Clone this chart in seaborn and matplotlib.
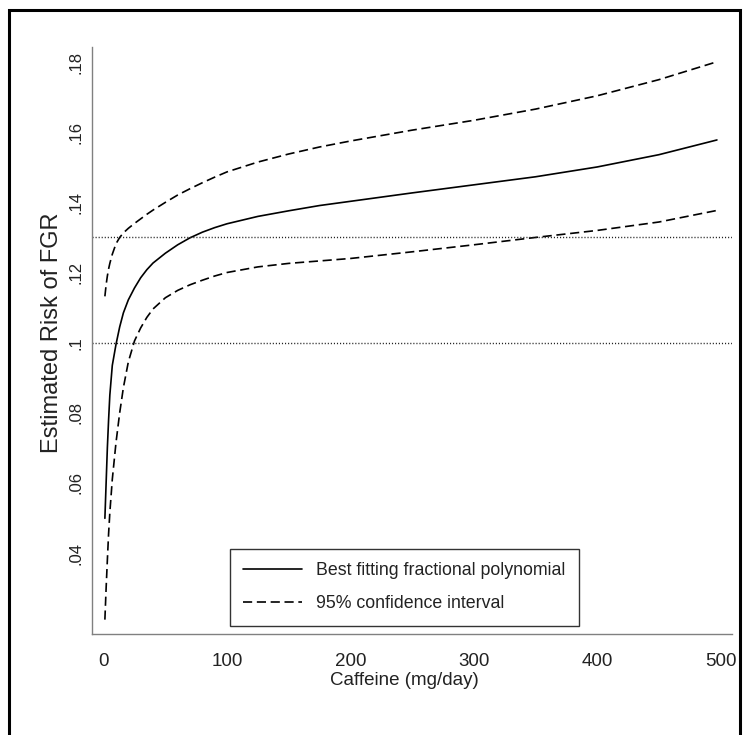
import matplotlib
matplotlib.use('Agg')
import matplotlib.pyplot as plt
import seaborn as sns
from matplotlib.lines import Line2D
from matplotlib.patches import Rectangle

# Values
caffeine = [1, 2, 3, 4, 5, 7, 10, 13, 16, 20, 25, 30, 35, 40, 50, 60, 70, 80, 90, 100,
            125, 150, 175, 200, 250, 300, 350, 400, 450, 497]
risk_fit = [0.0499, 0.0600, 0.0700, 0.0780, 0.0850, 0.0935, 0.0995, 0.1045, 0.1085, 0.1122,
            0.1156, 0.1185, 0.1208, 0.1227, 0.1255, 0.1279, 0.1299, 0.1315, 0.1328, 0.1339,
            0.1360, 0.1376, 0.1391, 0.1403, 0.1427, 0.1450, 0.1473, 0.1501, 0.1536, 0.1578]
ci_upper = [0.1132, 0.1165, 0.1190, 0.1210, 0.1226, 0.1252, 0.1282, 0.1300, 0.1313, 0.1326,
            0.1340, 0.1353, 0.1366, 0.1378, 0.1400, 0.1421, 0.1439, 0.1456, 0.1472, 0.1487,
            0.1515, 0.1538, 0.1558, 0.1575, 0.1606, 0.1634, 0.1666, 0.1704, 0.1750, 0.1801]
ci_lower = [0.0210, 0.0300, 0.0380, 0.0455, 0.0515, 0.0610, 0.0715, 0.0800, 0.0872, 0.0945,
            0.1005, 0.1042, 0.1072, 0.1096, 0.1128, 0.1149, 0.1165, 0.1178, 0.1190, 0.1200,
            0.1216, 0.1226, 0.1233, 0.1240, 0.1259, 0.1279, 0.1300, 0.1320, 0.1344, 0.1377]
ref_lines = [0.13, 0.10]
x_ticks = [0, 100, 200, 300, 400, 500]
y_ticks = [0.04, 0.06, 0.08, 0.10, 0.12, 0.14, 0.16, 0.18]
y_ticklabels = ['.04', '.06', '.08', '.1', '.12', '.14', '.16', '.18']
legend_labels = ['Best fitting fractional polynomial', '95% confidence interval']

sns.set_style('white')
plt.rcParams['font.family'] = ['Liberation Sans', 'DejaVu Sans']
text_col = '#222222'
axis_col = '#808080'
dash = (0, (5.5, 2.8))

fig = plt.figure(figsize=(7.45, 7.35), dpi=100)
ax = fig.add_axes([0.1239, 0.1374, 0.8583, 0.7986])

sns.lineplot(x=caffeine, y=risk_fit, ax=ax, color='black', lw=1.2)
sns.lineplot(x=caffeine, y=ci_upper, ax=ax, color='black', lw=1.2, linestyle=dash)
sns.lineplot(x=caffeine, y=ci_lower, ax=ax, color='black', lw=1.2, linestyle=dash)

for r in ref_lines:
    ax.axhline(r, color='#222222', lw=1.0, linestyle=(0, (0.8, 1.4)))

ax.set_xlim(-9.2, 509)
ax.set_ylim(0.0169, 0.1843)

for s in ['top', 'right']:
    ax.spines[s].set_visible(False)
for s in ['left', 'bottom']:
    ax.spines[s].set_color(axis_col)
    ax.spines[s].set_linewidth(1.0)

ax.set_xticks(x_ticks)
ax.set_xticklabels([str(t) for t in x_ticks], fontsize=13.5, color=text_col)
ax.set_yticks(y_ticks)
ax.set_yticklabels(y_ticklabels, fontsize=12, rotation=90, va='center', color=text_col)
ax.tick_params(axis='x', direction='out', length=7, width=1, color=axis_col, pad=7)
ax.tick_params(axis='y', direction='out', length=5, width=1, color=axis_col, pad=1)

ax.set_xlabel('Caffeine (mg/day)', fontsize=13.5, color=text_col)
ax.xaxis.set_label_coords(0.4875, -0.065)
ax.set_ylabel('Estimated Risk of FGR', fontsize=17, color=text_col)
ax.yaxis.set_label_coords(-0.0458, 0.514)

handles = [Line2D([], [], color='black', lw=1.2),
           Line2D([], [], color='black', lw=1.2, linestyle=dash)]
leg = ax.legend(handles, legend_labels, loc='lower left', bbox_to_anchor=(0.2154, 0.0141),
                borderaxespad=0, frameon=True, fancybox=False, framealpha=1,
                edgecolor='#333333', handlelength=3.3, handletextpad=0.8,
                borderpad=0.75, labelspacing=0.9,
                prop={'size': 12.8})
leg.get_frame().set_linewidth(1.0)
for t in leg.get_texts():
    t.set_color(text_col)

# outer black frame of the figure
fig.patches.append(Rectangle((9 / 745, -0.05), (740 - 9) / 745, (735 - 10) / 735 + 0.05,
                             transform=fig.transFigure, fill=False, lw=2.2, ec='black'))

fig.savefig('out.png', dpi=100)
